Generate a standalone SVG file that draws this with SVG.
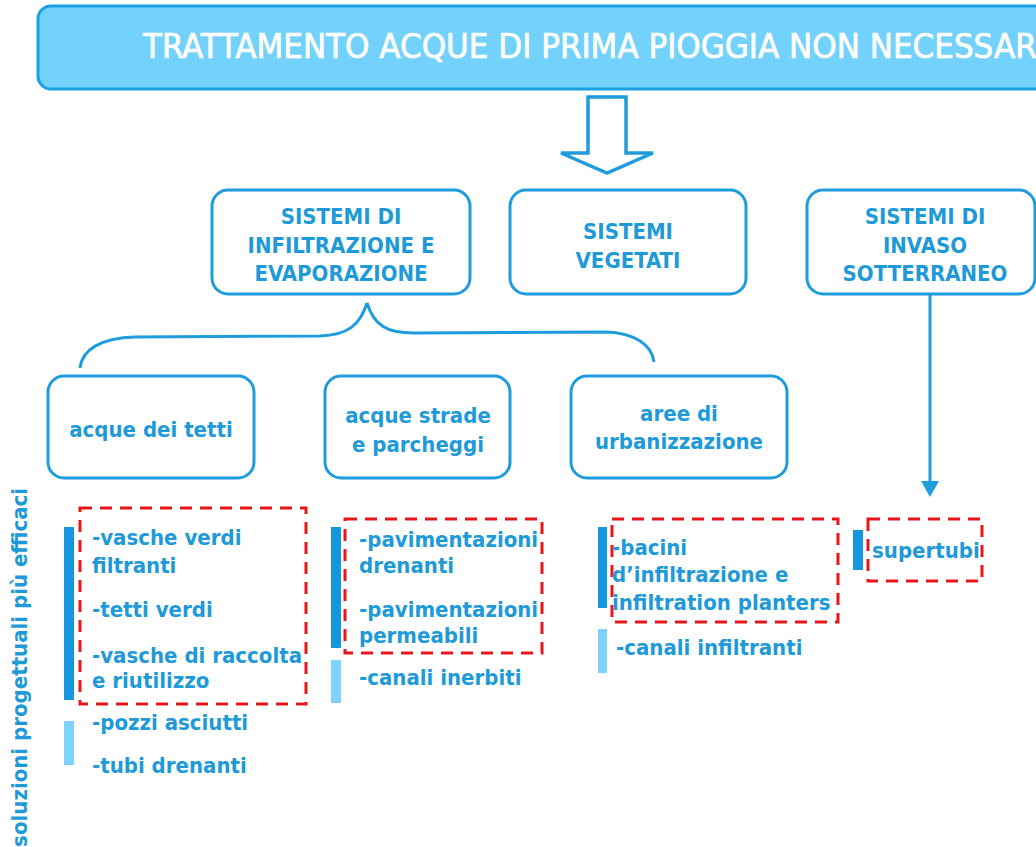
<svg xmlns="http://www.w3.org/2000/svg" width="1036" height="847" viewBox="0 0 1036 847">
<style>
.box{fill:#fff;stroke:#1E9CDC;stroke-width:3}
.hd{font-family:"DejaVu Sans Condensed","DejaVu Sans",sans-serif;font-stretch:condensed;font-weight:bold;font-size:22px;fill:#1E9AD8;text-anchor:middle}
.lb{font-family:"DejaVu Sans Condensed","DejaVu Sans",sans-serif;font-stretch:condensed;font-weight:bold;font-size:22px;fill:#1E9AD8}
.red{fill:none;stroke:#E8161B;stroke-width:3;stroke-dasharray:12 8}
.dk{fill:#1497DF}
.lt{fill:#7DD3F9}
.con{fill:none;stroke:#1E9CDC;stroke-width:3}
</style>
<rect width="1036" height="847" fill="#fff"/>
<g id="title">
<rect x="38" y="6" width="1020" height="83" rx="13" fill="#73D2FB" stroke="#1A9FE0" stroke-width="3"/>
<text x="143" y="58" font-family="DejaVu Sans Condensed,DejaVu Sans,sans-serif" font-stretch="condensed" font-size="34.5" fill="#fff" stroke="#fff" stroke-width="0.7">TRATTAMENTO ACQUE DI PRIMA PIOGGIA NON NECESSAR</text>
</g>
<g id="connectors">
<path d="M588,97 H626 V153 H653 L607,173 L561,153 H588 Z" fill="#fff" stroke="#1E9CDC" stroke-width="3.5"/>
<path class="con" d="M367,303 C360,325 348,335 320,336 L135,337 C100,338 82,350 80,368"/>
<path class="con" d="M367,303 C374,325 386,333 414,333 L606,332 C635,333 652,345 654,362"/>
<line class="con" x1="930" y1="294" x2="930" y2="482"/>
<polygon points="921,481 939,481 930,497" fill="#1E9CDC"/>
</g>
<g id="n-infiltrazione">
<rect class="box" x="212" y="190" width="258" height="104" rx="16"/>
<text class="hd" x="341" y="224">SISTEMI DI</text>
<text class="hd" x="341" y="253">INFILTRAZIONE E</text>
<text class="hd" x="341" y="281">EVAPORAZIONE</text>
</g>
<g id="n-vegetati">
<rect class="box" x="510" y="190" width="236" height="104" rx="16"/>
<text class="hd" x="628" y="239">SISTEMI</text>
<text class="hd" x="628" y="268">VEGETATI</text>
</g>
<g id="n-invaso">
<rect class="box" x="807" y="190" width="228" height="104" rx="16"/>
<text class="hd" x="925" y="224">SISTEMI DI</text>
<text class="hd" x="925" y="253">INVASO</text>
<text class="hd" x="925" y="281">SOTTERRANEO</text>
</g>
<g id="n-tetti">
<rect class="box" x="48" y="376" width="206" height="102" rx="16"/>
<text class="hd" x="151" y="437">acque dei tetti</text>
</g>
<g id="n-strade">
<rect class="box" x="325" y="376" width="185" height="102" rx="16"/>
<text class="hd" x="418" y="423">acque strade</text>
<text class="hd" x="418" y="452">e parcheggi</text>
</g>
<g id="n-urbanizzazione">
<rect class="box" x="571" y="376" width="216" height="102" rx="16"/>
<text class="hd" x="679" y="421">aree di</text>
<text class="hd" x="679" y="449">urbanizzazione</text>
</g>
<g id="side-label">
<text class="lb" transform="translate(27,488) rotate(-90)" text-anchor="end" fill="#2AA0DC">soluzioni progettuali più efficaci</text>
</g>
<g id="list-tetti">
<rect class="dk" x="64" y="527" width="10" height="173"/>
<rect class="lt" x="64" y="721" width="10" height="44"/>
<rect class="red" x="80" y="508" width="226" height="196"/>
<text class="lb" x="92" y="545">-vasche verdi</text>
<text class="lb" x="92" y="573">filtranti</text>
<text class="lb" x="92" y="617">-tetti verdi</text>
<text class="lb" x="92" y="663">-vasche di raccolta</text>
<text class="lb" x="92" y="688">e riutilizzo</text>
<text class="lb" x="92" y="730">-pozzi asciutti</text>
<text class="lb" x="92" y="773">-tubi drenanti</text>
</g>
<g id="list-strade">
<rect class="dk" x="331" y="527" width="10" height="121"/>
<rect class="lt" x="331" y="660" width="10" height="43"/>
<rect class="red" x="345" y="519" width="197" height="134"/>
<text class="lb" x="359" y="547">-pavimentazioni</text>
<text class="lb" x="359" y="573">drenanti</text>
<text class="lb" x="359" y="617">-pavimentazioni</text>
<text class="lb" x="359" y="643">permeabili</text>
<text class="lb" x="359" y="685">-canali inerbiti</text>
</g>
<g id="list-urbanizzazione">
<rect class="dk" x="598" y="527" width="9" height="81"/>
<rect class="lt" x="598" y="629" width="9" height="44"/>
<rect class="red" x="612" y="519" width="226" height="103"/>
<text class="lb" x="612" y="555">-bacini</text>
<text class="lb" x="612" y="582">d’infiltrazione e</text>
<text class="lb" x="612" y="610">infiltration planters</text>
<text class="lb" x="616" y="655">-canali infiltranti</text>
</g>
<g id="list-invaso">
<rect class="dk" x="853" y="530" width="10" height="40"/>
<rect class="red" x="868" y="519" width="114" height="62"/>
<text class="lb" x="872" y="558">supertubi</text>
</g>
</svg>
